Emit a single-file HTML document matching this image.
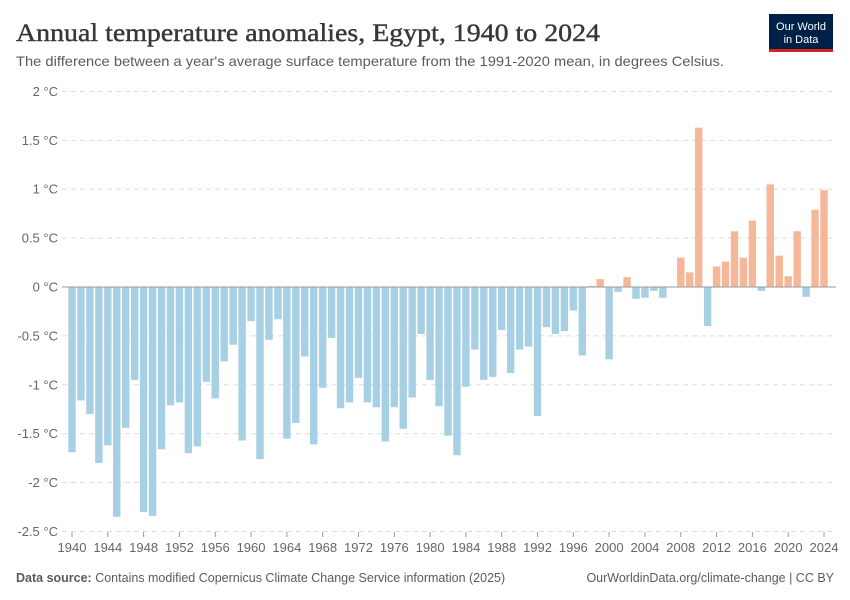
<!DOCTYPE html>
<html><head><meta charset="utf-8"><style>
body{margin:0;background:#fff;font-family:"Liberation Sans",sans-serif;}
#wrap{position:relative;width:850px;height:600px;overflow:hidden;}
</style></head><body>
<div id="wrap">
<svg id="chart" width="850" height="600" xmlns="http://www.w3.org/2000/svg">
<text x="16" y="41" font-family="Liberation Serif, serif" font-size="25" fill="#373737" textLength="584" lengthAdjust="spacingAndGlyphs" stroke="#373737" stroke-width="0.4">Annual temperature anomalies, Egypt, 1940 to 2024</text>
<text x="16" y="66" font-size="14" fill="#5b5b5b" textLength="708" lengthAdjust="spacingAndGlyphs">The difference between a year's average surface temperature from the 1991-2020 mean, in degrees Celsius.</text>
<g>
<rect x="769" y="14" width="64" height="37" fill="#002147"/>
<rect x="769" y="49" width="64" height="3" fill="#ce261e"/>
<text x="801" y="30" font-size="11" fill="#fff" text-anchor="middle">Our World</text>
<text x="801" y="43" font-size="11" fill="#fff" text-anchor="middle">in Data</text>
</g>
<g id="grid"></g>
<g id="bars"></g>
<g id="xaxis"></g>
<text x="16" y="582" font-size="12.5" fill="#5b5b5b"><tspan font-weight="bold">Data source:</tspan> Contains modified Copernicus Climate Change Service information (2025)</text>
<text x="834" y="582" font-size="12.5" fill="#5b5b5b" text-anchor="end">OurWorldinData.org/climate-change | CC BY</text>
</svg>
</div>
<script>
const years = [];
for (let y = 1940; y <= 2024; y++) years.push(y);
const values = [
-1.69,-1.16,-1.30,-1.80,-1.62,-2.35,-1.44,-0.95,-2.30,-2.34,
-1.66,-1.21,-1.18,-1.70,-1.63,-0.97,-1.14,-0.76,-0.59,-1.57,
-0.35,-1.76,-0.54,-0.33,-1.55,-1.39,-0.71,-1.61,-1.03,-0.52,
-1.24,-1.18,-0.93,-1.18,-1.23,-1.58,-1.23,-1.45,-1.13,-0.48,
-0.95,-1.22,-1.52,-1.72,-1.02,-0.64,-0.95,-0.92,-0.44,-0.88,
-0.64,-0.61,-1.32,-0.41,-0.48,-0.45,-0.24,-0.70,0.01,0.08,
-0.74,-0.05,0.10,-0.12,-0.11,-0.04,-0.11,0,0.30,0.15,
1.63,-0.40,0.21,0.26,0.57,0.30,0.68,-0.04,1.05,0.32,
0.11,0.57,-0.10,0.79,0.99];
const yTicks = [2,1.5,1,0.5,0,-0.5,-1,-1.5,-2,-2.5];
const yTickLabels = ["2 °C","1.5 °C","1 °C","0.5 °C","0 °C","-0.5 °C","-1 °C","-1.5 °C","-2 °C","-2.5 °C"];
const xTicks = [1940,1944,1948,1952,1956,1960,1964,1968,1972,1976,1980,1984,1988,1992,1996,2000,2004,2008,2012,2016,2020,2024];

const NS = "http://www.w3.org/2000/svg";
const yScale = v => 287 + (0 - v) * (440 / 4.5);
const xScale = yr => 72 + (yr - 1940) * (752 / 84);
const bw = 7.4;
function mk(tag, attrs, parent) {
  const e = document.createElementNS(NS, tag);
  for (const k in attrs) e.setAttribute(k, attrs[k]);
  parent.appendChild(e);
  return e;
}
const grid = document.getElementById('grid');
yTicks.forEach((t, i) => {
  const y = yScale(t);
  if (t !== 0) {
    const l = mk('line', {x1: 62, x2: 836, y1: y, y2: y, stroke: '#dddddd', 'stroke-dasharray': '5,4'}, grid);
    
    
  }
  const tx = mk('text', {x: 58, y: y + 4.5, 'font-size': 13, fill: '#666', 'text-anchor': 'end'}, grid);
  tx.textContent = yTickLabels[i];
  
  
});
const bars = document.getElementById('bars');
years.forEach((yr, i) => {
  const v = values[i];
  if (v === 0) return;
  const y0 = yScale(0), y1 = yScale(v);
  const r = mk('rect', {x: xScale(yr) - bw / 2, y: Math.min(y0, y1), width: bw, height: Math.abs(y1 - y0), fill: v > 0 ? '#f6b799' : '#a8d0e4'}, bars);
  
  
});
const xa = document.getElementById('xaxis');
const zl = mk('line', {x1: 62, x2: 836, y1: yScale(0), y2: yScale(0), stroke: '#999', 'stroke-width': 1}, xa);


xTicks.forEach(t => {
  const x = xScale(t);
  const tk = mk('line', {x1: x, x2: x, y1: 532, y2: 537, stroke: '#999'}, xa);
  
  
  const tx = mk('text', {x: x, y: 552, 'font-size': 13, fill: '#666', 'text-anchor': 'middle'}, xa);
  tx.textContent = t;
  
  
});
</script>
</body></html>
